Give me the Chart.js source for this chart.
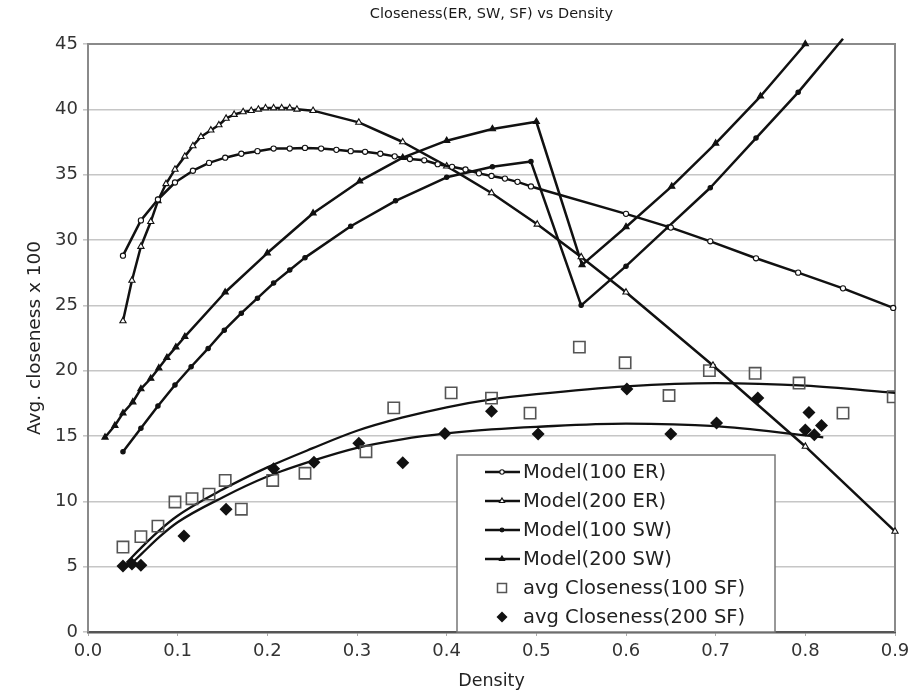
<!DOCTYPE html>
<html>
<head>
<meta charset="utf-8">
<script src="https://cdn.jsdelivr.net/npm/chart.js@4.4.1/dist/chart.umd.min.js"></script>
<style>
  html, body { margin: 0; padding: 0; background: #fff; }
  #wrap { width: 913px; height: 694px; }
</style>
</head>
<body>
<div id="wrap"><canvas id="c" width="913" height="694"></canvas></div>
<script>
// ---- data (density on x, avg. closeness x 100 on y) ----
const TITLE = 'Closeness(ER, SW, SF) vs Density';
const X_LABEL = 'Density';
const Y_LABEL = 'Avg. closeness x 100';
const X_TICKS = [0, 0.1, 0.2, 0.3, 0.4, 0.5, 0.6, 0.7, 0.8, 0.9];
const Y_TICKS = [0, 5, 10, 15, 20, 25, 30, 35, 40, 45];

const SERIES_NAMES = [
  'Model(100 ER)', 'Model(200 ER)', 'Model(100 SW)', 'Model(200 SW)',
  'avg Closeness(100 SF)', 'avg Closeness(200 SF)'
];

const er100X = [0.039, 0.059, 0.078, 0.097, 0.117, 0.135, 0.153, 0.171, 0.189, 0.207, 0.225, 0.242,
  0.26, 0.277, 0.293, 0.309, 0.326, 0.342, 0.359, 0.375, 0.39, 0.406, 0.421, 0.436, 0.45, 0.465,
  0.479, 0.494, 0.6, 0.65, 0.694, 0.745, 0.792, 0.842, 0.898];
const er100Y = [28.8, 31.5, 33.1, 34.4, 35.3, 35.9, 36.3, 36.6, 36.8, 37.0, 37.0, 37.05,
  37.0, 36.9, 36.8, 36.75, 36.6, 36.4, 36.2, 36.1, 35.8, 35.6, 35.4, 35.1, 34.9, 34.7,
  34.45, 34.1, 32.0, 30.95, 29.9, 28.6, 27.5, 26.3, 24.8];

const er200X = [0.039, 0.049, 0.059, 0.07, 0.078, 0.087, 0.097, 0.108, 0.117, 0.126, 0.137, 0.146,
  0.154, 0.163, 0.173, 0.182, 0.19, 0.198, 0.207, 0.216, 0.225, 0.233, 0.251, 0.302, 0.351, 0.4,
  0.45, 0.501, 0.55, 0.6, 0.697, 0.8, 0.9];
const er200Y = [23.8, 26.9, 29.5, 31.4, 33.0, 34.3, 35.4, 36.4, 37.2, 37.9, 38.4, 38.8,
  39.3, 39.6, 39.8, 39.9, 40.0, 40.1, 40.1, 40.1, 40.1, 40.0, 39.9, 39.0, 37.5, 35.65,
  33.6, 31.2, 28.7, 26.0, 20.4, 14.2, 7.7];

const sw100X = [0.039, 0.059, 0.078, 0.097, 0.115, 0.134, 0.152, 0.171, 0.189, 0.207, 0.225, 0.242,
  0.293, 0.343, 0.4, 0.451, 0.494, 0.55, 0.6, 0.647, 0.694, 0.745, 0.792, 0.842];
const sw100Y = [13.8, 15.6, 17.3, 18.9, 20.3, 21.7, 23.1, 24.4, 25.55, 26.7, 27.7, 28.65,
  31.05, 33.0, 34.8, 35.6, 36.0, 25.0, 28.0, 31.0, 34.0, 37.8, 41.3, 45.4];

const sw200X = [0.019, 0.03, 0.039, 0.05, 0.059, 0.07, 0.079, 0.088, 0.098, 0.108, 0.153, 0.2,
  0.251, 0.303, 0.351, 0.4, 0.451, 0.5, 0.551, 0.6, 0.651, 0.7, 0.75, 0.8];
const sw200Y = [14.9, 15.8, 16.75, 17.6, 18.6, 19.4, 20.2, 21.0, 21.8, 22.6, 26.0, 29.0,
  32.05, 34.5, 36.3, 37.6, 38.5, 39.05, 28.1, 31.0, 34.1, 37.4, 41.0, 45.0];

const sf100X = [0.039, 0.059, 0.078, 0.097, 0.116, 0.135, 0.153, 0.171, 0.206, 0.242, 0.31, 0.341,
  0.405, 0.45, 0.493, 0.548, 0.599, 0.648, 0.693, 0.744, 0.793, 0.842, 0.898];
const sf100Y = [6.5, 7.3, 8.1, 9.95, 10.2, 10.55, 11.6, 9.4, 11.6, 12.15, 13.8, 17.15,
  18.3, 17.9, 16.75, 21.8, 20.6, 18.1, 20.0, 19.8, 19.05, 16.75, 18.0];

const sf200X = [0.039, 0.049, 0.059, 0.107, 0.154, 0.207, 0.252, 0.302, 0.351, 0.398, 0.45, 0.502,
  0.601, 0.65, 0.701, 0.747, 0.8, 0.804, 0.81, 0.818];
const sf200Y = [5.05, 5.2, 5.1, 7.35, 9.4, 12.5, 13.0, 14.45, 12.95, 15.2, 16.9, 15.15,
  18.6, 15.15, 16.0, 17.9, 15.45, 16.8, 15.1, 15.8];

// fitted trend curves through the two SF samples
const trend100X = [0.043, 0.06, 0.08, 0.1, 0.15, 0.2, 0.25, 0.3, 0.35, 0.4, 0.45, 0.5, 0.6, 0.7, 0.8, 0.9];
const trend100Y = [5.3, 6.5, 7.8, 8.9, 10.9, 12.6, 14.05, 15.4, 16.4, 17.2, 17.8, 18.2, 18.8, 19.05, 18.85, 18.3];
const trend200X = [0.045, 0.06, 0.08, 0.1, 0.15, 0.2, 0.25, 0.3, 0.35, 0.4, 0.45, 0.5, 0.6, 0.7, 0.8, 0.82];
const trend200Y = [5.0, 6.0, 7.3, 8.4, 10.3, 11.9, 13.1, 14.1, 14.75, 15.2, 15.5, 15.7, 15.95, 15.75, 15.05, 14.9];

// ---- helpers ----
const FONT = '"DejaVu Sans", Verdana, sans-serif';
const INK = '#111';
const pts = (xs, ys) => xs.map((x, i) => ({ x: x, y: ys[i] }));

function modelLine(label, xs, ys, style, radius, fill) {
  return {
    type: 'line', label: label, data: pts(xs, ys),
    borderColor: INK, borderWidth: 2.5, borderJoinStyle: 'round', tension: 0,
    pointStyle: style, pointRadius: radius, pointBorderWidth: 1.1,
    pointBackgroundColor: fill, pointBorderColor: INK,
    clip: false, inLegend: true
  };
}
function trendLine(xs, ys) {
  return {
    type: 'line', label: '', data: pts(xs, ys),
    borderColor: INK, borderWidth: 2.3, pointRadius: 0,
    tension: 0.4, cubicInterpolationMode: 'monotone', clip: false, inLegend: false
  };
}

// ---- legend drawn as a boxed panel inside the plot ----
function drawMarker(ctx, style, x, y, r, fill, stroke, lw) {
  ctx.save();
  ctx.beginPath();
  if (style === 'circle') {
    ctx.arc(x, y, r, 0, Math.PI * 2);
  } else if (style === 'triangle') {
    for (let k = 0; k < 3; k++) {
      const a = k * 2 * Math.PI / 3;
      const px = x + Math.sin(a) * r, py = y - Math.cos(a) * r;
      if (k === 0) ctx.moveTo(px, py); else ctx.lineTo(px, py);
    }
    ctx.closePath();
  } else if (style === 'rect') {
    ctx.rect(x - r, y - r, 2 * r, 2 * r);
  } else if (style === 'rectRot') {
    ctx.moveTo(x, y - r); ctx.lineTo(x + r, y); ctx.lineTo(x, y + r); ctx.lineTo(x - r, y);
    ctx.closePath();
  }
  if (fill) { ctx.fillStyle = fill; ctx.fill(); }
  if (stroke) { ctx.strokeStyle = stroke; ctx.lineWidth = lw; ctx.stroke(); }
  ctx.restore();
}

const panelLegend = {
  id: 'panelLegend',
  afterDatasetsDraw(chart) {
    const { ctx, chartArea: a } = chart;
    const left = a.left + 369, top = a.top + 411, right = a.left + 687, bottom = a.bottom;
    ctx.save();
    ctx.fillStyle = '#fff';
    ctx.fillRect(left, top, right - left, bottom - top);
    ctx.strokeStyle = '#777';
    ctx.lineWidth = 1.5;
    ctx.strokeRect(left, top, right - left, bottom - top);
    const items = chart.data.datasets.filter(d => d.inLegend);
    ctx.font = '19.5px ' + FONT;
    ctx.textBaseline = 'middle';
    ctx.textAlign = 'left';
    items.forEach((d, i) => {
      const y = top + 17 + i * 29;
      const mx = left + 45;
      if (d.type === 'line') {
        ctx.strokeStyle = INK; ctx.lineWidth = 2.4;
        ctx.beginPath(); ctx.moveTo(left + 28, y); ctx.lineTo(left + 63, y); ctx.stroke();
        drawMarker(ctx, d.pointStyle, mx, y, d.pointRadius * 0.85,
          d.pointBackgroundColor, INK, 1.1);
      } else if (d.pointStyle === 'rect') {
        drawMarker(ctx, 'rect', mx, y, 4.5, '#fff', '#555', 1.5);
      } else {
        drawMarker(ctx, 'rectRot', mx, y, 5.5, INK, null, 0);
      }
      ctx.fillStyle = '#222';
      ctx.fillText(d.label, left + 66, y + 1);
    });
    ctx.restore();
  }
};

// white page, plus the plot frame on its top and right sides
const frame = {
  id: 'frame',
  beforeDraw(chart) {
    const { ctx, width, height } = chart;
    ctx.save(); ctx.fillStyle = '#fff'; ctx.fillRect(0, 0, width, height); ctx.restore();
  },
  beforeDatasetsDraw(chart) {
    const { ctx, chartArea: a } = chart;
    ctx.save();
    ctx.strokeStyle = '#8a8a8a';
    ctx.lineWidth = 2;
    ctx.beginPath();
    ctx.moveTo(a.left, a.top); ctx.lineTo(a.right, a.top); ctx.lineTo(a.right, a.bottom);
    ctx.stroke();
    ctx.restore();
  }
};

const datasets = [
  modelLine(SERIES_NAMES[0], er100X, er100Y, 'circle', 2.6, '#fff'),
  modelLine(SERIES_NAMES[1], er200X, er200Y, 'triangle', 3.6, '#fff'),
  modelLine(SERIES_NAMES[2], sw100X, sw100Y, 'circle', 2.2, INK),
  modelLine(SERIES_NAMES[3], sw200X, sw200Y, 'triangle', 3.6, INK),
  {
    type: 'scatter', label: SERIES_NAMES[4], data: pts(sf100X, sf100Y), showLine: false,
    pointStyle: 'rect', pointRadius: 8, pointBorderWidth: 1.6,
    pointBackgroundColor: 'rgba(255,255,255,0)', pointBorderColor: '#555', inLegend: true
  },
  {
    type: 'scatter', label: SERIES_NAMES[5], data: pts(sf200X, sf200Y), showLine: false,
    pointStyle: 'rectRot', pointRadius: 6.5, pointBorderWidth: 0,
    pointBackgroundColor: INK, pointBorderColor: INK, inLegend: true
  },
  trendLine(trend100X, trend100Y),
  trendLine(trend200X, trend200Y)
];

new Chart(document.getElementById('c'), {
  type: 'line',
  data: { datasets: datasets },
  plugins: [frame, panelLegend],
  options: {
    responsive: false,
    animation: false,
    devicePixelRatio: 1,
    layout: { padding: { left: 0, right: 18, top: 0, bottom: 0 } },
    plugins: {
      legend: { display: false },
      tooltip: { enabled: false },
      title: {
        display: true, text: TITLE, fullSize: false, color: '#1a1a1a',
        font: { family: FONT, size: 14.5, weight: 'normal' },
        padding: { top: 5.3, bottom: 21.3 }
      }
    },
    scales: {
      x: {
        type: 'linear', min: X_TICKS[0], max: X_TICKS[X_TICKS.length - 1],
        afterBuildTicks: s => { s.ticks = X_TICKS.map(v => ({ value: v })); },
        ticks: {
          callback: v => Number(v).toFixed(1), color: '#333', padding: 5,
          font: { family: FONT, size: 18 }, maxRotation: 0, autoSkip: false
        },
        grid: { drawOnChartArea: false, drawTicks: true, tickLength: 4, color: '#aaa' },
        border: { color: '#555', width: 2.5 },
        title: {
          display: true, text: X_LABEL, color: '#222',
          font: { family: FONT, size: 17.5 }, padding: { top: 0, bottom: 2 }
        },
        afterFit: s => { s.height = 62; s.paddingLeft = 0; s.paddingRight = 0; }
      },
      y: {
        type: 'linear', min: Y_TICKS[0], max: Y_TICKS[Y_TICKS.length - 1],
        afterBuildTicks: s => { s.ticks = Y_TICKS.map(v => ({ value: v })); },
        ticks: { color: '#333', padding: 5, font: { family: FONT, size: 18 } },
        grid: { color: '#c6c6c6', lineWidth: 1.6, drawTicks: true, tickLength: 5 },
        border: { color: '#8a8a8a', width: 2 },
        title: {
          display: true, text: Y_LABEL, color: '#222',
          font: { family: FONT, size: 18.5 }, padding: { top: 24, bottom: 0 }
        },
        afterFit: s => { s.width = 88; s.paddingTop = 0; s.paddingBottom = 0; }
      }
    }
  }
});
</script>
</body>
</html>
